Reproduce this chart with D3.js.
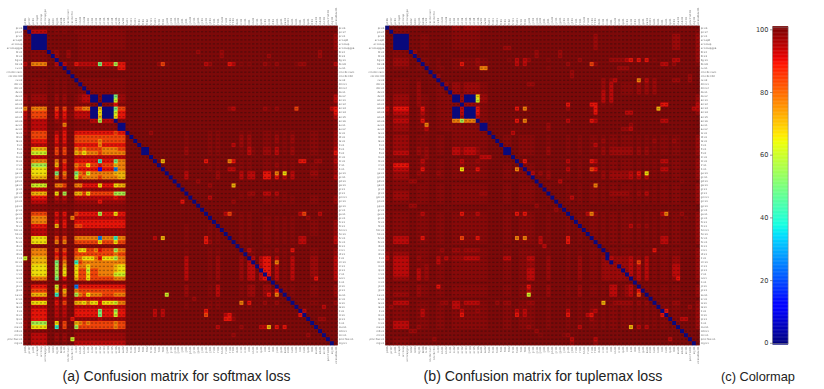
<!DOCTYPE html>
<html>
<head>
<meta charset="utf-8">
<style>
html,body{margin:0;padding:0;background:#fff;}
svg{display:block;}
</style>
<script src="https://d3js.org/d3.v7.min.js"></script>
</head>
<body>
<svg id="chart" width="824" height="389"></svg>
<script>
// one character per cell, see levelValues for the accuracy in %
var levelValues = {"0":0,"1":100,"2":100,"3":98.8,"4":97,"5":94,"6":90,"7":84,"8":77,"9":71,
	a:66,b:61,c:56,d:50,e:40,f:25,g:12};

var softmaxRows = [
"0222221122 2112222222 2223221111 1111111111 1111111111 1111111111 1111111112 1111111111",
"2055551132 3123333333 3333332222 2222222222 1111111111 1111111111 1111111111 1111111111",
"3300001122 2122333333 3333332222 2222222222 1111111111 1111111111 1111111111 1111111114",
"3300001122 2122333333 3333332222 2222222222 1111111111 1111111111 1111111111 1111111114",
"3300001122 2122333333 3333332222 2222222222 1111111111 1111111111 1111111111 1111111114",
"3300001122 2122333333 3333332222 2222222222 1111111111 1111111111 1111111111 1111111114",
"2233330342 2422333333 3322222222 2222222222 1111411111 4111111111 1111111111 1111141111",
"2233331042 2422333333 3322222222 2222222222 1111111111 4111111111 1141111111 1111141111",
"2233331102 2122333333 3322222222 2222222222 1111111111 1111111111 1111111111 1111111111",
"5288882250 533655555d 666c662222 2222473222 2222225422 2265232322 2432422223 4422222225",
"2233331132 0222333333 3333662222 2222222222 1111111111 1111111111 1111111111 1111111111",
"2122221121 1011222222 2222221111 1111111111 1111111111 1111111111 1111111111 1111111111",
"2122221121 1101222222 2222221111 1111111111 1111111111 1111111111 1111111111 1111111111",
"2233331132 3120333333 3333332222 2222222222 1111111111 1111111111 1111111111 1111111111",
"2233331132 3122033333 3333332222 2222222222 1111111111 1111111111 1111111111 1111111111",
"2233331132 3122303333 3333332222 2222222222 1111111111 1111111111 1111111111 1111111111",
"2233331132 3122330333 3333332222 2222222222 1111111111 1111111111 1111111111 1111111111",
"4244441142 4123455003 000d442222 2222222222 1111111111 1111111111 1111111111 1111111115",
"4244441142 4123455003 000b442222 2222222222 1111111111 1111111111 1111111111 1111111115",
"3233331132 3123333330 3336332222 2222222222 1111111111 1111111111 1111111111 1111111113",
"8288882273 7337788009 000d772222 2222222222 2222222222 2245222222 2432422227 2222222256",
"5277772263 633555500a 000b662222 2222222222 2222222222 2222222222 2222222222 2222222226",
"5277772263 6335555009 000a662222 2222222222 2222222222 2222222222 2222222222 2222222225",
"4255552243 522333355c 5550332222 2222222222 2222222222 2222222222 2222222222 2222222223",
"4255552233 8223333333 3333002222 2222222222 2222222222 2222222222 2222222222 2222222223",
"4255552233 5223333333 3333002222 2222222222 2222222222 2222222222 2222222222 2222222223",
"4277772253 6226666666 6667660222 2242222222 2322222323 2222232322 2332323232 2223322224",
"3277772263 6227777777 7777772022 2222222222 2322222323 2222242422 2332423242 2223322224",
"3266662263 6227777778 7777772202 2222222222 2322222323 2222242422 2332423242 2223322224",
"3255552253 5226666668 6666662220 2222222222 2322222323 2225242422 2332323232 2223322224",
"3299992273 7228787777 8888772222 0022222222 2422222323 2222232532 2442523242 2223322225",
"32bbbb2273 72298a8887 8888882222 0022222222 2422222323 2222232532 2442523242 2223322226",
"2255552242 4225555555 5555552222 2202222222 2222222222 2222222222 2222222222 2222222224",
"3288882283 722666666e 666d882222 2220292222 2322226323 2286232322 2332323232 6622442225",
"32cccc2293 622877a776 7779882222 2222022222 2322222323 2222232322 2332423232 2223322224",
"32aaaa2263 622766666g 666f882222 2222202222 2322222323 2255232322 2332323232 2223322224",
"32aaaa22d3 822d87b888 8889992222 2222220222 2522222224 2222252552 266282a252 2224422224",
"3299992283 722b788887 8888992222 2222222022 2522222224 2222252552 2662625252 2223322225",
"1133331131 3113333333 3333331111 1111111101 1111411111 1111111111 1111111111 1111111111",
"32bbbb2288 722886666a 666a992222 2222222220 2222222422 2229222222 2222222222 2222222222",
"2255552243 4224444444 4444442222 2222222222 0222222222 2222222222 2222222222 2222222222",
"32999922a3 c22997a777 777ccc2222 2222222222 2022222222 2222232442 2552523222 2222222222",
"3266662253 5225555555 5556552222 2222222222 2202222522 2222232322 2332323232 2223322224",
"3255552243 4224444446 4444442222 2222222222 6220222222 2224222222 2332323232 2223322224",
"1133331121 2113333333 3333331111 1111111111 1111011111 1111111111 1111111111 1111111111",
"2133331131 3123333333 3333331111 1111111111 1111101111 1111111111 1111111111 1111111111",
"3277772263 622766666c 666a662222 2222222222 2222220222 2573232322 2222222222 5722252222",
"3288882253 5285555555 5555552222 2222222222 2222222022 2222232322 2332323232 2242222222",
"3288882263 6226666666 6666662222 2222222222 2222222202 2222232322 2332323232 2223322224",
"3266662293 6227766666 6666662222 2222222222 2322222320 2222232322 2332323232 2223322224",
"2255552242 4224444444 4444442222 2222222222 2322222323 0222232322 2332323232 2223322224",
"2255552242 4224444444 4444442222 2222222222 2322222323 2022232322 2332323232 2223322224",
"32aaaa2273 722888888f 888e882222 2225292222 2322226323 2202232322 2332323232 5522222225",
"32aaaa2283 822777777a 777a772222 2222222222 2322226423 2220232322 2332323232 5522222225",
"1133331121 3113333333 3333331111 1111111111 1111111111 1111011111 1111111111 1111111111",
"3288882273 7227aa7786 777c882222 2222222222 2322222323 2222202532 2332423262 2223322224",
"3288882263 6227777777 7778772222 2222222222 2322222323 2222230332 2332323232 2223322224",
"b299992273 72288aaa86 aaac882222 2222222222 2522222324 2222242052 5662523252 2224422225",
"32999922d3 822e788888 8888882222 2222222222 2522222324 2222242502 5662823252 2224422225",
"32aaaa22c3 922a88a888 8889aa2222 2222222222 2522222324 2222242550 5662523252 2224422225",
"32aaaa22c3 a22a77b778 8889aa2222 2222222222 2522222324 2222242552 0662523252 2224422225",
"32aaaa22c3 a22a77a778 888bbb2222 2222222222 2522222324 2222242552 5062523252 2224422225",
"32888822d3 622977a777 7778882222 2222222222 2522222324 2222242552 5602523252 2223622225",
"1133331131 3113333333 3333331111 1111111111 1111111111 1111111111 1110111111 1111111111",
"32666622b3 622f666666 6666662222 2222222222 2422222325 2222232442 2442023232 2223322224",
"3277772293 9228777777 7777772222 2222222222 2422222325 2222232442 2442603232 2223322224",
"32999922e3 822c87a888 7778882222 222222b222 2422222325 2222232442 2462820232 2223322224",
"2255552252 5225555555 5555552222 2222222222 2224222222 2222222222 2222222022 2222222222",
"32aaaa2263 72299a8aa6 aaab882222 2222222222 2322222323 2222282622 2422422202 2223322224",
"3255552253 5225555555 5555552222 2222222222 2322222323 2222232322 2222222220 2222225222",
"3266662253 522666666d 666c662222 2225252222 2222226222 2222222222 2222222222 0522222222",
"3266662253 522666666d 666b662222 2225252222 2222227222 2563222222 2222222222 6022222222",
"3266662243 4264444445 4444442222 2222222222 2222222222 2664222222 2222222222 2202244222",
"42cccc22a3 7229878777 7778772222 2222222222 2222222222 2222222222 2222222222 2220222222",
"42aaaa22e3 722c777777 7778772222 2222222222 2222222225 2222242222 5592626222 2222022222",
"1133331121 2113333333 3333331111 1111111111 1111111111 1111111111 1111111111 1111101111",
"3255552242 4224444444 4444442222 2222222222 2222222222 2224222222 2222222222 2242220222",
"3255552242 42b4444444 4444442222 2222222222 2222222222 2222222222 2222222222 2222222022",
"3255552232 3225555555 5555552222 2222222222 2222222222 2222222222 2222222222 2222222202"
];

var tuplemaxRows = [
"0222222222 2222222443 4444332222 2222222222 2222222222 2222232322 2222222222 2222222222",
"2033332222 2222222333 3333222222 2222222222 2222222222 2222222222 2222222222 2222222223",
"2200002223 3222222333 3333222222 2222222222 2222222222 2224222222 2222222222 2224422224",
"2200002223 3222222333 3333222222 2222222222 2222222222 2224222222 2222222222 2224422224",
"2200002223 3222222333 3333222222 2222222222 2222222222 2224222222 2222222222 2224422224",
"2200002223 3222222333 3333222222 4422222222 2222222222 2224222222 2222222222 2224422224",
"2233330422 2222222222 2222222222 2222222242 2222422222 2222222222 2222222222 2222222224",
"2233332022 2222222222 2222222222 2222222242 2222422222 2222222222 2222222222 2222222224",
"3244442203 3223222333 3334332222 2325254222 2322222224 2222222444 4563626232 2225522224",
"3244442230 3223222336 3334332222 2225252222 2222224222 2274222222 2222222222 5524222223",
"3233332233 0223322333 3333882222 2222222222 2322222222 2222222224 4422222222 2222222222",
"2222222222 2022222222 2222222222 2222222222 2222222422 2222222222 2222222222 2222222222",
"2222222222 2204222222 2222222222 2222222222 2222222422 2222222222 2222222222 2222222422",
"2233332232 2220222222 2222222222 2222222222 2222222222 2222242452 2222825242 2224422422",
"2233332242 2223042443 4444332222 2222224422 2222222222 2222242522 3332424242 2222222222",
"2233332242 2223302443 4444332222 2222222222 2222222222 2222242522 3332424242 2222222222",
"2233332242 2223320443 4444332222 2222222222 2222222222 2222252522 3332424242 2222222222",
"3244442243 3223333004 000a442222 2222222222 2222222222 2222252522 2222222222 2222222224",
"3244442243 3223333004 000b442222 2222222222 2222222222 2222252522 2222222222 2222222224",
"3244442243 3223333330 4444332222 2222222222 2222226222 2266232322 2222222222 6622222225",
"5266662236 3223333005 0006332222 2226283222 2222224222 2236222222 2222222229 2222222255",
"4255552235 3223333005 0006332222 2222222222 2222222222 2236222222 2552222222 2222222224",
"3244442234 3223333004 0005332222 2222222222 2222222222 2223222222 2222222222 2222222222",
"3255552236 322333388c 8880332222 2226282222 2222225222 2265222222 2222222222 5522222222",
"3244442233 8223333333 3333002222 2222222222 2422222222 2222222222 2242222222 2222222222",
"3244442233 5223333333 3333002222 2222222222 2422222222 2222222222 4452222222 2222222222",
"2233332222 3222222333 3333330222 2252222222 2222222222 2222222222 2222222222 2222222222",
"3244442233 3223322333 3333332022 3322333322 2322223223 2233232332 3332323232 3323322224",
"3244442233 3223322333 3333332202 3322333322 2322223223 2233242332 3332323242 3324322224",
"3244442233 3223322333 3333332220 3322333322 2322223223 2235232332 3332323232 3323322224",
"3244442243 4223322554 5554332222 0022333322 2422223223 2233242444 4442424232 3323322224",
"3255552243 4223322554 5554332222 0022333322 2422223223 2233242444 4442424232 3323322224",
"2233332223 4222222222 2222555222 2202222222 2222222222 2222222222 2222222222 2222222223",
"3233332235 3223322335 3334332222 2220262222 2322225223 2265232332 3332323232 5523322224",
"3266662234 3223322334 3333332222 3322033322 2322223223 2233232332 3332323232 3323322224",
"3255552236 322332233a 3336332222 3328303322 2322225223 2276232332 3332323232 5523322224",
"3244442243 3224322333 3333332222 3322330524 2422223223 2233242444 445362a232 3323322224",
"3244442233 3223322333 3333332222 3322333022 2422223223 2233242444 4453525232 3323322224",
"2233334422 3222222222 2222222222 2222222202 2222522222 2222222222 2222222222 2222232222",
"3233332233 3223322333 3333332222 3322333320 2322223223 2238232332 3332323232 3323322224",
"3233332233 3223322333 3333332222 3322333322 0322223223 2233232332 3332323232 3323322224",
"3244442233 3223322333 3333442222 3322333322 2022223223 2233232444 4432425232 3323322224",
"3244442233 3223322333 3333332222 3322333322 2302223523 2233232332 3332323232 3323322224",
"3233332233 3223322333 3333332222 3322333322 2320223223 2233232332 3332323232 3323322224",
"1122224411 2111111111 1111111111 1111111141 1111011111 1111111111 1111111111 1111111111",
"2222222222 2222222222 2222222222 2222222222 2224202222 2222222222 2222222222 2222222222",
"3233332235 3223322336 3335332222 3326363322 2322220223 2584232332 3332323232 5823342224",
"3233332233 3223322333 3333332222 3322333322 2322223023 2233232332 3332323232 3323323224",
"3233332233 3223322333 3333332222 3322333322 2322223203 2233232332 3332323232 3323322224",
"3233332233 3223322333 3333332222 3322333322 2322223220 2233232332 3352424232 3323322224",
"3233332233 3223322333 3333332222 3322333322 2322223223 0233232332 3332323232 3323322224",
"3233332233 3223322333 3333332222 3322333322 2322223223 2033232332 3332323232 3323322224",
"3255552236 3223322337 3336332222 3328383325 2322226223 2203232332 3332323232 5523322224",
"3255552233 3223322333 3333332222 3322333325 2322226223 2230232332 3332323232 5523322224",
"1122221111 2111111111 1111111111 1111111111 5111111111 1111011111 1111111111 1111111111",
"3233332233 3223422443 4444332222 3322333322 2322223223 2233202332 3332323262 3323322224",
"4244442233 3223322333 3333332222 3322333322 2322223223 2233230332 3332323232 3323322224",
"5255552243 3225353444 5555332222 5522335522 2422223224 2233240544 4453425232 3324422224",
"3255552233 3225322333 3333332222 3322334422 2422223224 2233244044 4453725232 3324422224",
"3255552233 4223322333 3333332222 3322334422 2422223224 2233244440 4453525232 3325522224",
"3255552253 4223322333 3333332222 3322335522 2422223224 2233244444 0453525232 3325522224",
"3255552253 4223322333 3333332222 3322335522 2422223224 2233244444 4053525232 3325522224",
"3244442253 4223322333 3333332222 3322335522 2422223224 2233244444 4403525232 3324622224",
"1122221111 1111111111 1111111111 1111111111 1111111111 1111111111 1110111111 1111111111",
"3233332243 3226322333 3333332222 3322336322 2422223224 2233232552 3452023232 3323322224",
"3233332243 3223322333 3333332222 3322335322 2422223224 2233232552 3452603232 3323322224",
"3244442243 3223322333 3333332222 332233b322 2422223224 2233232552 3452720232 3323322224",
"1122221111 1111111111 1111111111 1111111111 1111111111 1111111111 1111111011 1111111111",
"3255552233 3223442553 5555332242 4422334422 2322223223 2233292344 4442424202 3324422224",
"3433332233 3223322553 3333332222 3322333322 2322223223 2233232332 3332323230 3323322424",
"3233332235 3223322335 3334332222 3325353322 2322225223 2245232332 3332323232 0623322224",
"3233332235 3223322336 3333332222 3326353322 2322226223 2563232332 3332323232 6023322224",
"3233332233 3223322333 3333332222 3322333322 2322223223 2243232332 3332323232 3303355224",
"3255552233 3223322333 3333332222 3322333322 2322223223 2233232332 3332323232 3320322224",
"3255552243 3223322333 3333332222 3322334322 2322223225 2233232332 3392525232 3323022224",
"1122224411 1111111111 1111111111 1111111141 1111111111 1111111111 1111111111 1111101111",
"2222222222 2222222222 2222222222 2222222223 2222234222 2222222222 2222222222 2222220222",
"2233332222 2242222222 2222222222 2222222222 2222222522 2225222222 2222222222 2252222022",
"2233332222 2222222222 2222222222 2222222222 2222222422 2224222222 2222222222 2222222202"
];

// the class names are too small to read in the picture, these only stand in for them
var classNames = ["pt:06","pn:07","pr:01","ar:capR","ar:cocap","ar:cocapgpe","bl:02","bl:03","bg:01","bk:08",
	"cu:01","cm:cbc:canc","cm:cbc:fdd","cs:03","dm:01","dm:02","ds:01","ds:02","en:01","en:02",
	"en:03","en:04","en:05","en:06","ev:01","ev:02","fa:01","fd:01","fe:01","fi:01",
	"fl:01","fl:02","fn:01","fo:01","fr:01","ft:01","ga:01","gc:01","gd:01","ge:01",
	"gi:01","gl:01","gm:01","gn:01","gp:01","gr:01","gs:01","gt:01","hi:01","hl:01",
	"hm:01","ho:01","hr:01","ht:01","ib:01","ic:01","id:01","il:01","im:01","in:01",
	"ip:01","ir:01","is:01","it:01","jo:01","jp:01","ka:01","kr:01","la:01","le:01",
	"li:01","lo:01","lp:01","lt:01","ma:01","mb:01","mc:01","pmc:hist:01","mg:01","zz:mailbox:01"];
var captions = ["(a) Confusion matrix for softmax loss","(b) Confusion matrix for tuplemax loss","(c) Colormap"];
var captionX = [176.5,543,758];
var captionSize = [14,14.2,12.8];
var colorbarTicks = [0,20,40,60,80,100];

// matplotlib jet
var jetR = d3.scaleLinear().domain([0,35,66,89,100]).range([0,0,1,1,.5]);
var jetG = d3.scaleLinear().domain([0,12.5,37.5,64,91,100]).range([0,0,1,1,0,0]);
var jetB = d3.scaleLinear().domain([0,11,34,65,100]).range([.5,1,1,0,0]);
function jet(v){
	return d3.rgb(jetR(v)*255,jetG(v)*255,jetB(v)*255)+"";
}

var svg = d3.select("#chart");
var defs = svg.append("defs");
defs.append("filter").attr("id","soft").append("feGaussianBlur").attr("stdDeviation",0.4);

var rowCount = classNames.length-1, colCount = classNames.length;

function draw_matrix(rows,left){
	var top = 25.7;
	var x = d3.scaleBand().domain(d3.range(colCount)).range([left,left+314.4]);
	var y = d3.scaleBand().domain(d3.range(rowCount)).range([top,top+319.6]);
	var cells = [];
	rows.forEach(function(row,r){
		row.replace(/ /g,"").split("").forEach(function(ch,c){
			cells.push({r:r,c:c,value:levelValues[ch]});
		});
	});
	// grey behind the see-through cells dulls the colours like in the reference
	svg.append("rect")
	    .attr("x",left).attr("y",top).attr("width",314.4).attr("height",319.6)
	    .attr("fill","#606060");
	var g = svg.append("g").attr("filter","url(#soft)").attr("opacity",0.9);
	g.selectAll("rect.cell")
	    .data(cells)
	  .enter().append("rect")
	    .attr("class","cell")
	    .attr("x",function(d){ return x(d.c); })
	    .attr("y",function(d){ return y(d.r); })
	    .attr("width",function(d){ return x.bandwidth()+(d.c<colCount-1 ? 0.7 : 0); })
	    .attr("height",function(d){ return y.bandwidth()+(d.r<rowCount-1 ? 0.7 : 0); })
	    .attr("fill",function(d){ return jet(d.value); });
	// the small numbers printed in every cell show up as dark smudges
	g.selectAll("rect.num")
	    .data(cells.filter(function(d){ return d.value>20; }))
	  .enter().append("rect")
	    .attr("class","num")
	    .attr("x",function(d){ return x(d.c)+0.8; })
	    .attr("y",function(d){ return y(d.r)+1.3; })
	    .attr("width",2.3)
	    .attr("height",1.4)
	    .attr("fill","#000")
	    .attr("opacity",0.3);

	var labels = svg.append("g").attr("filter","url(#soft)");
	function axis(a,tx,ty){
		var ax = labels.append("g").attr("transform","translate("+tx+","+ty+")")
			.call(a.tickSize(0).tickPadding(1).tickFormat(function(i){ return classNames[i]; }));
		ax.select(".domain").remove();
		ax.selectAll("text").attr("font-size",2.5).attr("font-family","DejaVu Sans").attr("fill","#666");
		return ax;
	}
	axis(d3.axisLeft(y),left,0);
	axis(d3.axisRight(y),left+314.4,0);
	axis(d3.axisTop(x),0,top).selectAll("text")
		.attr("text-anchor","start").attr("dx",0).attr("dy",0)
		.attr("transform","translate(0.9,-1) rotate(-90)")
		.attr("x",0).attr("y",0);
	axis(d3.axisBottom(x),0,top+319.6).selectAll("text")
		.attr("text-anchor","end").attr("dx",0).attr("dy",0)
		.attr("transform","translate(0.9,1) rotate(-90)")
		.attr("x",0).attr("y",0);
}

draw_matrix(softmaxRows,23.3);
draw_matrix(tuplemaxRows,385.3);

// colorbar
var colorY = d3.scaleLinear().domain([0,100]).range([342.8,29.3]);
var steps = d3.range(-0.5,100.8,0.25);
svg.append("g").selectAll("rect")
    .data(steps)
  .enter().append("rect")
    .attr("x",772.5)
    .attr("y",function(d){ return colorY(d)-0.9; })
    .attr("width",15.6)
    .attr("height",1.2)
    .attr("fill",function(d){ return jet(Math.max(0,Math.min(100,d))); });
svg.append("rect")
    .attr("x",772.5).attr("y",colorY(100.7)).attr("width",15.6).attr("height",colorY(-0.3)-colorY(100.7))
    .attr("fill","none").attr("stroke","#888").attr("stroke-width",0.6);
var cax = svg.append("g").attr("transform","translate(772.5,0)")
    .call(d3.axisLeft(colorY).tickValues(colorbarTicks).tickSize(2.5).tickPadding(1.5));
cax.select(".domain").remove();
cax.selectAll("line").attr("stroke","#555").attr("stroke-width",0.6);
cax.selectAll("text").attr("font-size",6.6).attr("font-family","DejaVu Sans").attr("fill","#333");

// captions
svg.selectAll("text.caption")
    .data(captions)
  .enter().append("text")
    .attr("class","caption")
    .attr("x",function(d,i){ return captionX[i]; })
    .attr("y",381)
    .attr("text-anchor","middle")
    .attr("font-family","Liberation Sans")
    .attr("font-size",function(d,i){ return captionSize[i]; })
    .attr("fill","#222")
    .text(function(d){ return d; });
</script>
</body>
</html>
